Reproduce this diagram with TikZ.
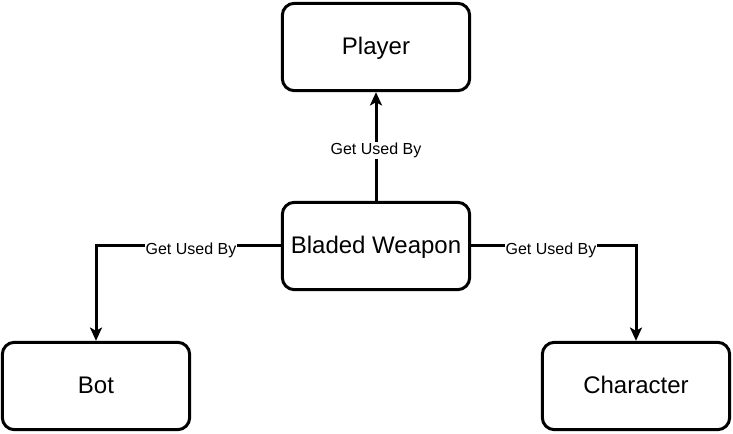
\documentclass[tikz,border=0pt]{standalone}
\usepackage{fontspec}
\setmainfont{Liberation Sans}
\usetikzlibrary{arrows.meta}

\tikzset{
    entity/.style={draw, line width=2.25pt, rounded corners=9pt, minimum width=140.5pt, minimum height=65.5pt, text height=15pt, text depth=3pt, font=\fontsize{18}{21}\selectfont},
    usage/.style={line width=2.25pt, -{Stealth[length=10pt, width=9pt, inset=2.5pt]}},
    tag/.style={fill=white, inner sep=0.5pt, yshift=-3pt, font=\fontsize{12}{14}\selectfont}
}

\begin{document}
\begin{tikzpicture}[x=0.75pt, y=-0.75pt]
        \useasboundingbox (0, 0) rectangle (733, 434);

        % entities
        \node[entity] (player) at (376, 47) {Player};
        \node[entity] (weapon) at (376, 246) {Bladed Weapon};
        \node[entity] (bot) at (96, 386) {Bot};
        \node[entity] (character) at (636, 386) {Character};

        % relations
        \draw[usage] (weapon) -- node[tag] {Get Used By} (player);
        \draw[usage] (weapon.west) -| node[tag, pos=0.243] {Get Used By} (bot.north);
        \draw[usage] (weapon.east) -| node[tag, pos=0.242] {Get Used By} (character.north);
    \end{tikzpicture}
\end{document}
